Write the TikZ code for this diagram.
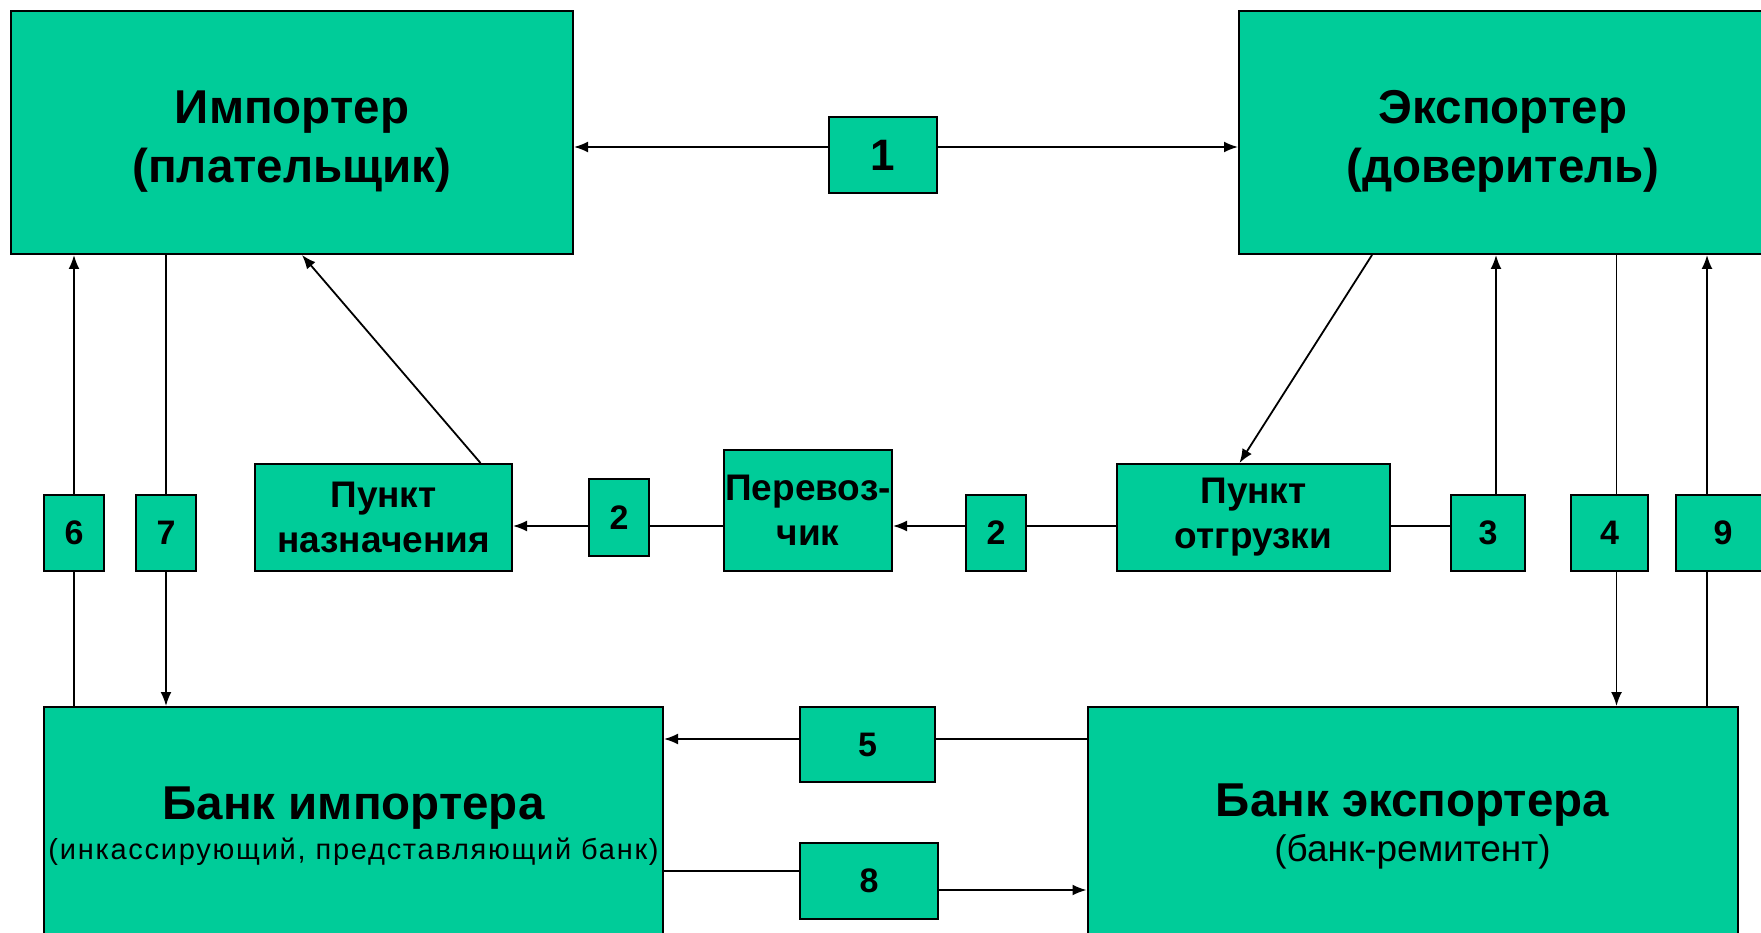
\documentclass[tikz,border=0pt]{standalone}
\usepackage{fontspec}
\setmainfont{Liberation Sans}
\usetikzlibrary{arrows.meta}
\definecolor{boxgreen}{HTML}{00CC99}
\newcommand{\titlefont}{\fontsize{47.5}{59}\selectfont\bfseries}
\newcommand{\labelfont}{\fontsize{37}{45}\selectfont\bfseries}
\newcommand{\numfont}{\fontsize{34}{40}\selectfont\bfseries}
\tikzset{box/.style={draw=black, fill=boxgreen, line width=2pt, inner sep=0pt, align=center}}
\tikzset{numbox/.style={box, font=\numfont}}
\tikzset{ar/.style={-{Latex[length=14pt,width=11pt]}, line width=1.8pt}}
\tikzset{ln/.style={line width=1.8pt}}

\begin{document}
\begin{tikzpicture}[x=1pt,y=-1pt]
        \useasboundingbox (0,0) rectangle (1761,933);
        \node [box, minimum width=562pt, minimum height=243pt, font=\titlefont] (imp) at (292,132.5) {\rule{0pt}{50pt}Импортер\\(плательщик)};
        \node [box, minimum width=528pt, minimum height=243pt, font=\titlefont] (exp) at (1503,132.5) {\rule{0pt}{50pt}Экспортер\\(доверитель)};
        \node [numbox, minimum width=108pt, minimum height=76pt, font=\fontsize{44}{50}\selectfont\bfseries] (b1) at (883,155) {1};
        \node [numbox, minimum width=60pt, minimum height=76pt] (b6) at (74,533) {6};
        \node [numbox, minimum width=60pt, minimum height=76pt] (b7) at (166,533) {7};
        \node [box, minimum width=257pt, minimum height=107pt, font=\labelfont] (dest) at (383.5,517.5) {Пункт\\назначения};
        \node [numbox, minimum width=60pt, minimum height=77pt] (b2a) at (619,517.5) {2};
        \node [box, minimum width=168pt, minimum height=121pt, font=\labelfont] (carrier) at (808,510.5) {Перевоз-\\чик};
        \node [numbox, minimum width=60pt, minimum height=76pt] (b2b) at (996,533) {2};
        \node [box, minimum width=273pt, minimum height=107pt, font=\labelfont] (ship) at (1253.5,517.5) {Пункт\\отгрузки};
        \node [numbox, minimum width=74pt, minimum height=76pt] (b3) at (1488,533) {3};
        \node [numbox, minimum width=77pt, minimum height=76pt] (b4) at (1609.5,533) {4};
        \node [numbox, minimum width=94pt, minimum height=76pt] (b9) at (1723,533) {9};
        \node [box, minimum width=619pt, minimum height=238pt] (bankI) at (353.5,826) {{\titlefont Банк импортера}\\[8pt]{\fontsize{29}{34}\selectfont\addfontfeature{LetterSpace=6}(инкассирующий, представляющий банк)}};
        \node [numbox, minimum width=135pt, minimum height=75pt] (b5) at (867.5,744.5) {5};
        \node [numbox, minimum width=138pt, minimum height=76pt] (b8) at (869,881) {8};
        \node [box, minimum width=650pt, minimum height=238pt] (bankE) at (1412.5,826) {{\titlefont Банк экспортера}\\[7pt]{\fontsize{37}{42}\selectfont (банк-ремитент)}};
        \coordinate (r1) at ([yshift=8pt]b1.west);
        \coordinate (r1e) at ([yshift=8pt]b1.east);
        \coordinate (mid) at ([yshift=-8.5pt]dest.east);
        \coordinate (r5) at ([yshift=5.5pt]b5.west);
        \coordinate (r8a) at ([yshift=10pt]b8.west);
        \coordinate (r8b) at ([yshift=-9pt]b8.east);
        \coordinate (c3) at ([xshift=8pt]b3.north);
        \coordinate (c4) at ([xshift=7pt]b4.north);
        \coordinate (c9) at ([xshift=-16pt]b9.north);
        \draw [ar] (r1) -- (r1 -| imp.east);
        \draw [ar] (r1e) -- (r1e -| exp.west);
        \draw [ar] (b6.north) -- (b6.north |- imp.south);
        \draw [ln] (b6.south) -- (b6.south |- bankI.north);
        \draw [ln] (b7.north |- imp.south) -- (b7.north);
        \draw [ar] (b7.south) -- (b7.south |- bankI.north);
        \draw [ar] ([xshift=97pt]dest.north) -- ([xshift=10pt]imp.south);
        \draw [ar] ([xshift=-131pt]exp.south) -- ([xshift=-14pt]ship.north);
        \draw [ln] (ship.west |- mid) -- (b2b.east |- mid);
        \draw [ar] (b2b.west |- mid) -- (carrier.east |- mid);
        \draw [ln] (carrier.west |- mid) -- (b2a.east |- mid);
        \draw [ar] (b2a.west |- mid) -- (dest.east |- mid);
        \draw [ln] (ship.east |- mid) -- (b3.west |- mid);
        \draw [ar] (c3) -- (c3 |- exp.south);
        \draw [ln] (c4 |- exp.south) -- (c4);
        \draw [ar] (c4 |- b4.south) -- (c4 |- bankE.north);
        \draw [ar] (c9) -- (c9 |- exp.south);
        \draw [ln] (c9 |- bankE.north) -- (c9 |- b9.south);
        \draw [ln] (bankE.west |- r5) -- (b5.east |- r5);
        \draw [ar] (r5) -- (r5 -| bankI.east);
        \draw [ln] (bankI.east |- r8a) -- (r8a);
        \draw [ar] (r8b) -- (r8b -| bankE.west);
\end{tikzpicture}
\end{document}
